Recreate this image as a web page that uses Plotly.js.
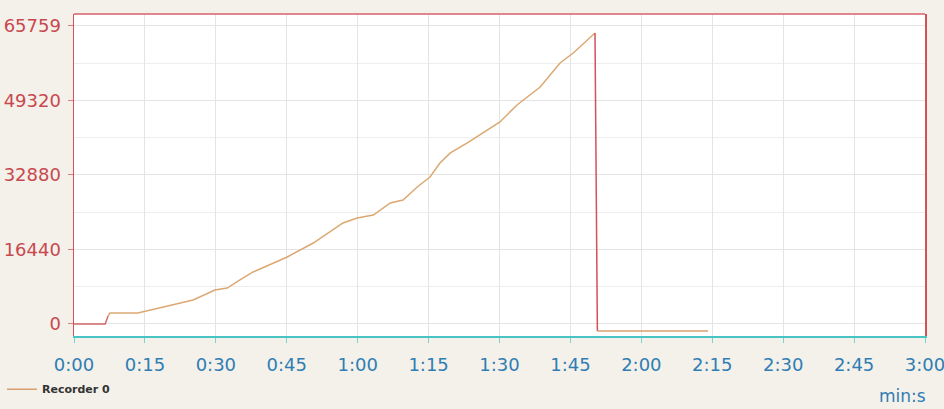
<!DOCTYPE html>
<html>
<head>
<meta charset="utf-8">
<script src="https://cdn.plot.ly/plotly-3.0.1.min.js"></script>
<style>html,body{margin:0;padding:0;background:#f3f1ea;}#chart{width:944px;height:409px;}</style>
</head>
<body>
<div id="chart"></div>
<script>
// time in seconds, value in counts
const timeSec = [0, 6.6, 7.2, 7.6, 13.5, 18.2, 25.2, 29.8, 32.4, 35.1, 37.9, 45.1, 50.6, 56.9, 59.9, 63.3, 66.9, 69.6, 72.6, 75.3, 77.4, 79.6, 83.2, 90.1, 93.7, 98.6, 102.8, 105.6, 108.5, 110.2, 110.7, 134.1];
const values = [0, 0, 1765, 2430, 2430, 3530, 5300, 7500, 7940, 9710, 11480, 14790, 17870, 22290, 23390, 24050, 26700, 27360, 30230, 32440, 35530, 37740, 39940, 44580, 48330, 52300, 57600, 59800, 62670, 64220, -1550, -1550];
const yTickVals = [0, 16440, 32880, 49320, 65759];
const yTickText = ['0', '16440', '32880', '49320', '65759'];
const xTickVals = [0, 15, 30, 45, 60, 75, 90, 105, 120, 135, 150, 165, 180];
const xTickText = ['0:00', '0:15', '0:30', '0:45', '1:00', '1:15', '1:30', '1:45', '2:00', '2:15', '2:30', '2:45', '3:00'];
const seriesName = 'Recorder 0';

const dropStart = 29;
const traces = [
  {x: timeSec.slice(0, 3), y: values.slice(0, 3), mode: 'lines', line: {color: '#d06a6a', width: 1.5}, showlegend: false, hoverinfo: 'skip'},
  {x: timeSec.slice(2, dropStart + 1), y: values.slice(2, dropStart + 1), mode: 'lines', line: {color: '#dca872', width: 1.5}, showlegend: false},
  {x: timeSec.slice(dropStart, dropStart + 2), y: values.slice(dropStart, dropStart + 2), mode: 'lines', line: {color: '#d4505a', width: 1.5}, showlegend: false},
  {x: timeSec.slice(dropStart + 1), y: values.slice(dropStart + 1), mode: 'lines', line: {color: '#d8a070', width: 1.5}, name: seriesName, showlegend: true}
];

const tickFamily = 'DejaVu Sans, Verdana, sans-serif';
const layout = {
  width: 944, height: 409,
  margin: {l: 74, r: 19, t: 14, b: 73, autoexpand: false},
  paper_bgcolor: '#f3f1ea',
  plot_bgcolor: '#ffffff',
  showlegend: true,
  legend: {x: -0.0846, y: -0.165, xanchor: 'left', yanchor: 'middle', bgcolor: 'rgba(0,0,0,0)',
    font: {family: tickFamily, size: 11, color: '#333333', weight: 'bold'},
    itemwidth: 30},
  xaxis: {
    range: [0, 180], tickmode: 'array', tickvals: xTickVals, ticktext: xTickText,
    showgrid: true, gridcolor: '#e4e4e4', gridwidth: 1, zeroline: false,
    showline: true, linecolor: '#48c4c4', linewidth: 2,
    ticks: 'outside', ticklen: 5, tickcolor: '#7fd0d0',
    ticklabelstandoff: 6, ticklabeloverflow: 'allow', automargin: false,
    tickfont: {family: tickFamily, size: 18, color: '#2f7db4'}
  },
  yaxis: {
    range: [-2650, 68400], tickmode: 'array', tickvals: yTickVals, ticktext: yTickText,
    showgrid: true, gridcolor: '#e4e4e4', gridwidth: 1, zeroline: false,
    showline: true, linecolor: '#d4505a', linewidth: 1.5, mirror: true,
    ticks: 'outside', ticklen: 5, tickcolor: '#d88080',
    ticklabelstandoff: 3, ticklabeloverflow: 'allow', automargin: false,
    minor: {tickmode: 'linear', tick0: 0, dtick: 8220, showgrid: true, gridcolor: '#eeeeee', ticks: ''},
    tickfont: {family: tickFamily, size: 18, color: '#c9484f'}
  },
  shapes: [
    {type: 'line', xref: 'paper', yref: 'paper', x0: 0, x1: 1, y0: 1, y1: 1, line: {color: '#d4606a', width: 1.5}}
  ],
  annotations: [
    {text: 'min:s', xref: 'paper', yref: 'paper', x: 1.003, y: -0.186, xanchor: 'right', yanchor: 'middle', showarrow: false,
     font: {family: tickFamily, size: 17, color: '#2f7db4'}}
  ]
};

Plotly.newPlot('chart', traces, layout, {displayModeBar: false, staticPlot: true});
</script>
</body>
</html>
